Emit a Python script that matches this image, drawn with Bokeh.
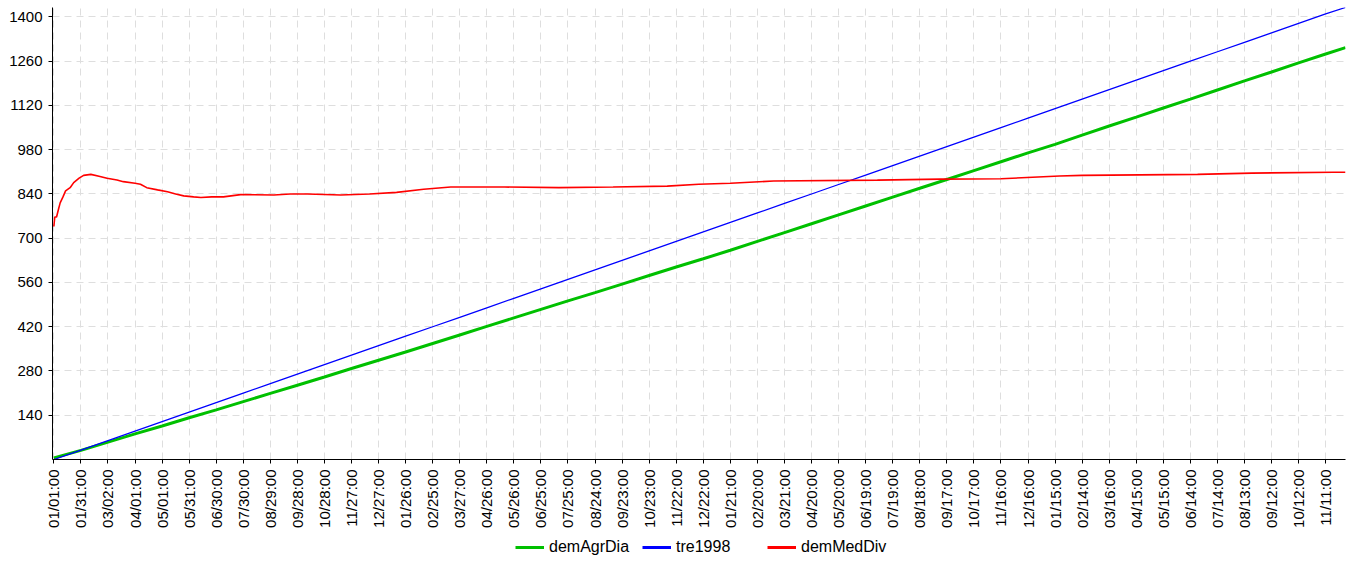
from bokeh.plotting import figure
from bokeh.layouts import column
from bokeh.models import FixedTicker, Legend, LegendItem, Range1d
from bokeh.embed import file_html
from bokeh.resources import INLINE
import math

# ---- data -------------------------------------------------------------
tick_days = [0, 30, 60, 90, 120, 150, 180, 210, 240, 270, 300, 330, 360, 390,
             420, 450, 480, 510, 540, 570, 600, 630, 660, 690, 720, 750, 780,
             810, 840, 870, 900, 930, 960, 990, 1020, 1050, 1080, 1110, 1140,
             1170, 1200, 1230, 1260, 1290, 1320, 1350, 1380, 1410]
tick_labels = ["01/01:00", "01/31:00", "03/02:00", "04/01:00", "05/01:00",
               "05/31:00", "06/30:00", "07/30:00", "08/29:00", "09/28:00",
               "10/28:00", "11/27:00", "12/27:00", "01/26:00", "02/25:00",
               "03/27:00", "04/26:00", "05/26:00", "06/25:00", "07/25:00",
               "08/24:00", "09/23:00", "10/23:00", "11/22:00", "12/22:00",
               "01/21:00", "02/20:00", "03/21:00", "04/20:00", "05/20:00",
               "06/19:00", "07/19:00", "08/18:00", "09/17:00", "10/17:00",
               "11/16:00", "12/16:00", "01/15:00", "02/14:00", "03/16:00",
               "04/15:00", "05/15:00", "06/14:00", "07/14:00", "08/13:00",
               "09/12:00", "10/12:00", "11/11:00"]
y_ticks = [140, 280, 420, 560, 700, 840, 980, 1120, 1260, 1400]

days = [0, 30, 60, 90, 120, 150, 180, 210, 240, 270, 300, 330, 360, 390,
        420, 450, 480, 510, 540, 570, 600, 630, 660, 690, 720, 750, 780,
        810, 840, 870, 900, 930, 960, 990, 1020, 1050, 1080, 1110, 1140,
        1170, 1200, 1230, 1260, 1290, 1320, 1350, 1380, 1410, 1432]
dem_agr_dia = [5, 29, 55, 81, 106, 132, 157, 183, 209, 235, 261, 288, 314,
               340, 367, 394, 421, 448, 475, 502, 528, 555, 582, 609, 635,
               662, 690, 718, 746, 774, 802, 830, 858, 886, 914, 942, 970,
               997, 1026, 1055, 1083, 1112, 1140, 1169, 1198, 1226, 1255,
               1283, 1303]
tre1998 = [0, 30, 60, 90, 120, 150, 180, 210, 240, 270, 300, 330, 360, 390,
           420, 450, 480, 510, 540, 570, 600, 630, 660, 690, 720, 750, 780,
           810, 840, 870, 900, 930, 960, 990, 1020, 1050, 1080, 1110, 1140,
           1170, 1200, 1230, 1260, 1290, 1320, 1350, 1380, 1410, 1430]

med_days = [0, 1, 3, 5, 7, 10, 13, 18, 22, 28, 33, 41, 50, 59, 70, 77, 90,
            96, 103, 115, 126, 135, 144, 155, 163, 175, 188, 207, 244, 262,
            281, 318, 350, 380, 410, 440, 500, 560, 620, 680, 715, 750, 798,
            913, 983, 1050, 1085, 1115, 1140, 1268, 1328, 1419, 1432]
dem_med_div = [737, 767, 767, 790, 812, 830, 850, 860, 876, 890, 899, 902,
               896, 890, 884, 879, 874, 871, 860, 853, 847, 840, 834, 831,
               829, 831, 831, 838, 837, 840, 840, 837, 840, 845, 855, 862,
               862, 860, 862, 865, 871, 874, 881, 884, 887, 888, 893, 897,
               899, 902, 906, 909, 909]

series_names = ["demAgrDia", "tre1998", "demMedDiv"]
series_colors = ["#00c000", "#0000ff", "#ff0000"]

# ---- main figure ------------------------------------------------------
FONT = "Liberation Sans"
p = figure(width=1352, height=530, output_backend="svg", toolbar_location=None,
           x_range=Range1d(-1.5, 1432), y_range=Range1d(0, 1430),
           min_border_left=52, min_border_right=7, min_border_top=7,
           min_border_bottom=71)
p.outline_line_color = None
p.background_fill_color = "white"
p.border_fill_color = "white"

p.line(days, dem_agr_dia, line_color=series_colors[0], line_width=3)
p.line(days, tre1998, line_color=series_colors[1], line_width=1.3)
p.line(med_days, dem_med_div, line_color=series_colors[2], line_width=1.6)

# axes
p.xaxis.ticker = FixedTicker(ticks=tick_days)
p.xaxis.major_label_overrides = {d: lab for d, lab in zip(tick_days, tick_labels)}
p.xaxis.major_label_orientation = math.pi / 2
p.yaxis.ticker = FixedTicker(ticks=y_ticks)
for ax in (p.xaxis[0], p.yaxis[0]):
    ax.major_label_text_font = FONT
    ax.major_label_text_font_size = "15px"
    ax.major_label_text_color = "black"
    ax.axis_line_color = "black"
    ax.major_tick_line_color = "black"
    ax.major_tick_out = 4
    ax.major_tick_in = 0
    ax.minor_tick_line_color = None
    ax.major_label_standoff = 6

# grids
for g in (p.xgrid[0], p.ygrid[0]):
    g.grid_line_color = "#dedede"
    g.grid_line_dash = "7 5"
    g.grid_line_width = 1
p.xgrid.ticker = FixedTicker(ticks=tick_days)
p.ygrid.ticker = FixedTicker(ticks=y_ticks)

# ---- legend strip below (series drawn off-range, only legend shows) ------
lf = figure(width=1352, height=35, output_backend="svg", toolbar_location=None,
            x_range=Range1d(-20, -10), y_range=Range1d(-20, -10), min_border=0)
lf.axis.visible = False
lf.grid.visible = False
lf.outline_line_color = None
lf.border_fill_color = "white"
lf.background_fill_color = "white"

lr = [lf.line(days, dem_agr_dia, line_color=series_colors[0], line_width=3),
      lf.line(days, tre1998, line_color=series_colors[1], line_width=3),
      lf.line(med_days, dem_med_div, line_color=series_colors[2], line_width=3)]

FRAME_LEFT = 52  # frames in the column are aligned with the main plot

def make_legend(items, x):
    return Legend(items=items, orientation="horizontal",
                  location=(x - FRAME_LEFT, 9),
                  padding=0, margin=0, spacing=13, label_standoff=5,
                  glyph_width=29, glyph_height=16,
                  label_text_font=FONT, label_text_font_size="16px",
                  label_text_color="black", background_fill_alpha=0,
                  border_line_color=None)

leg1 = make_legend([LegendItem(label=series_names[0], renderers=[lr[0]]),
                    LegendItem(label=series_names[1], renderers=[lr[1]])], 515)
leg2 = make_legend([LegendItem(label=series_names[2], renderers=[lr[2]])], 767)
lf.add_layout(leg1, "center")
lf.add_layout(leg2, "center")

layout = column(p, lf, spacing=0)
open("out.html", "w").write(file_html(layout, INLINE))
